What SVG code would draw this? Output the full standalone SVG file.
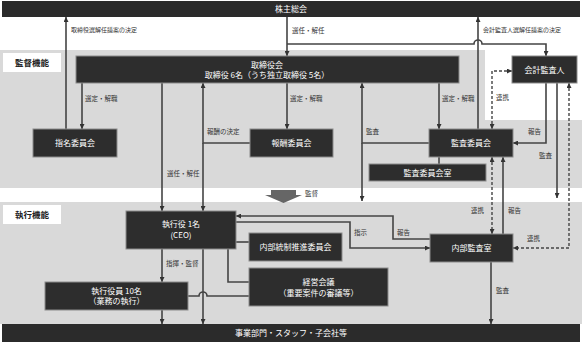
<svg xmlns="http://www.w3.org/2000/svg" width="582" height="343" viewBox="0 0 582 343">
<style>
text{font-family:"Noto Sans CJK JP","Noto Sans",sans-serif}
.box{fill:#2d2d2d;stroke:#8c8c8c;stroke-width:1}
.bar{fill:#2b2b2b}
.bt{fill:#fff;font-size:8px;text-anchor:middle}
.hd{fill:#222;font-size:8.5px;font-weight:bold;text-anchor:middle}
.lb{fill:#333;font-size:6.5px}
.sm{fill:#333;font-size:6px}
.ln{fill:none;stroke:#444;stroke-width:1.6}
.ds{fill:none;stroke:#444;stroke-width:1.4;stroke-dasharray:3,2}
.ae{marker-end:url(#ah)}
.as{marker-start:url(#ah)}
</style>
<defs>
<marker id="ah" viewBox="0 0 6 6" refX="6" refY="3" markerWidth="5" markerHeight="5" markerUnits="userSpaceOnUse" orient="auto-start-reverse">
<path d="M0,0 L6,3 L0,6 z" fill="#333"/>
</marker>
</defs>
<g id="background">
<rect x="0" y="0" width="582" height="343" fill="#fff"/>
<path d="M0,50 H485 V120 H582 V188 H0 Z" fill="#d9d9d9"/>
<rect x="0" y="202" width="582" height="122" fill="#d9d9d9"/>
<rect x="3" y="53" width="58" height="19" fill="#fff"/>
<text class="hd" x="32" y="65.5">監督機能</text>
<rect x="3" y="205" width="58" height="19" fill="#fff"/>
<text class="hd" x="32" y="217.5">執行機能</text>
<polygon points="271,190 296,190 296,195 302,195 283.5,203 265,195 271,195" fill="#666"/>
<text class="lb" x="305" y="196">監督</text>
</g>
<g id="connectors">
<path class="ln ae" d="M66,129 V17"/>
<path class="ln ae" d="M82,83 V129"/>
<path class="ln ae" d="M287,17 V56"/>
<path class="ln ae" d="M287,44 H474 a4,4 0 0 1 8,0 H546 V56"/>
<path class="ln ae" d="M478,129 V17"/>
<path class="ln ae" d="M287,83 V129"/>
<path class="ln ae" d="M250,143 H203 V83"/>
<path class="ln ae" d="M203,143 V211"/>
<path class="ln ae" d="M162,83 V211"/>
<path class="ln ae" d="M439,83 V129"/>
<path class="ln ae" d="M429,143 H362 V83"/>
<path class="ln ae" d="M362,143 V201"/>
<path class="ln" d="M439,157 V164"/>
<path class="ln ae" d="M546,83 V143 H513"/>
<path class="ln ae" d="M557,83 V198"/>
<path class="ln ae" d="M503,234 V157"/>
<path class="ln ae" d="M491,262 V324"/>
<path class="ln ae" d="M430,239 H393 V216 H236"/>
<path class="ln ae" d="M236,222 H350 V248 H430"/>
<path class="ln" d="M236,242 H249"/>
<path class="ln" d="M228,249 V282 H249"/>
<path class="ln" d="M188,296 H199 a4,4 0 0 1 8,0 H249"/>
<path class="ln ae" d="M162,249 V282"/>
<path class="ln ae" d="M203,249 V324"/>
<path class="ln ae" d="M162,310 V324"/>
<path class="ds as ae" d="M492,129 V71 H512"/>
<path class="ds as ae" d="M569,83 V248 H513"/>
<path class="ds as ae" d="M492,157 V234"/>
<text class="sm" x="71" y="32">取締役選解任議案の決定</text>
<text class="lb" x="292" y="33">選任・解任</text>
<text class="sm" x="483" y="32">会計監査人選解任議案の決定</text>
<text class="lb" x="85" y="100.5">選定・解職</text>
<text class="lb" x="290" y="100.5">選定・解職</text>
<text class="lb" x="442" y="100.5">選定・解職</text>
<text class="lb" x="496" y="100">連携</text>
<text class="lb" x="207" y="133.5">報酬の決定</text>
<text class="lb" x="366" y="133.5">監査</text>
<text class="lb" x="528" y="133.5">報告</text>
<text class="lb" x="539" y="157.5">監査</text>
<text class="lb" x="167" y="175.5">選任・解任</text>
<text class="lb" x="471" y="212.5">連携</text>
<text class="lb" x="508" y="212.5">報告</text>
<text class="lb" x="354" y="234.5">指示</text>
<text class="lb" x="397" y="234.5">報告</text>
<text class="lb" x="527" y="240.5">連携</text>
<text class="lb" x="166" y="265.5">指揮・監督</text>
<text class="lb" x="496" y="292.5">監査</text>
</g>
<g id="shareholders">
<rect class="bar" x="2" y="1" width="578" height="16"/>
<text class="bt" x="291" y="12" font-size="8.5">株主総会</text>
</g>
<g id="board">
<rect class="box" x="76" y="56" width="383" height="27"/>
<text class="bt" x="267" y="67.5">取締役会</text>
<text class="bt" x="267" y="78">取締役 6名（うち独立取締役 5名）</text>
</g>
<g id="nomination">
<rect class="box" x="33" y="129" width="84" height="28"/>
<text class="bt" x="75" y="146">指名委員会</text>
</g>
<g id="compensation">
<rect class="box" x="250" y="129" width="83" height="28"/>
<text class="bt" x="291.5" y="146">報酬委員会</text>
</g>
<g id="audit-committee">
<rect class="box" x="429" y="129" width="84" height="28"/>
<text class="bt" x="471" y="146">監査委員会</text>
</g>
<g id="audit-office">
<rect class="box" x="369" y="164" width="117" height="17"/>
<text class="bt" x="427.5" y="175.5">監査委員会室</text>
</g>
<g id="accounting-auditor">
<rect class="box" x="512" y="56" width="65" height="27"/>
<text class="bt" x="544.5" y="72.5">会計監査人</text>
</g>
<g id="ceo">
<rect class="box" x="126" y="211" width="110" height="38"/>
<text class="bt" x="181" y="226.5">執行役 1名</text>
<text class="bt" x="181" y="238">(CEO)</text>
</g>
<g id="internal-control">
<rect class="box" x="249" y="233" width="93" height="28"/>
<text class="bt" x="295.5" y="250">内部統制推進委員会</text>
</g>
<g id="management-meeting">
<rect class="box" x="249" y="268" width="139" height="38"/>
<text class="bt" x="318.5" y="284.5">経営会議</text>
<text class="bt" x="318.5" y="295.5">（重要案件の審議等）</text>
</g>
<g id="officers">
<rect class="box" x="45" y="282" width="143" height="28"/>
<text class="bt" x="116.5" y="293.5">執行役員 10名</text>
<text class="bt" x="116.5" y="304">（業務の執行）</text>
</g>
<g id="internal-audit">
<rect class="box" x="430" y="234" width="83" height="28"/>
<text class="bt" x="471.5" y="251">内部監査室</text>
</g>
<g id="business">
<rect class="bar" x="2" y="324" width="578" height="18"/>
<text class="bt" x="291" y="336">事業部門・スタッフ・子会社等</text>
</g>
</svg>
